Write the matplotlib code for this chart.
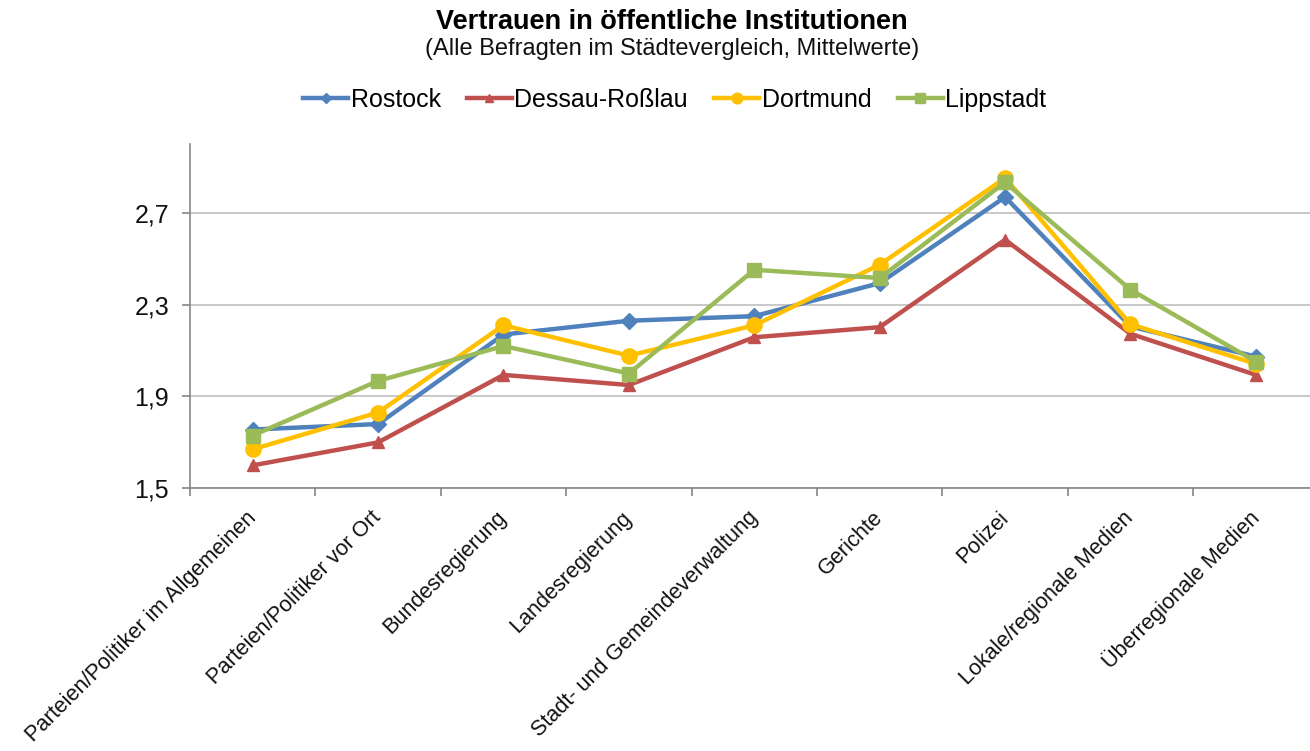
import matplotlib
matplotlib.use("Agg")
import matplotlib.pyplot as plt
from matplotlib.ticker import FixedLocator, FuncFormatter

plt.rcParams['font.family'] = ['Liberation Sans', 'DejaVu Sans']

categories = ["Parteien/Politiker im Allgemeinen", "Parteien/Politiker vor Ort",
              "Bundesregierung", "Landesregierung", "Stadt- und Gemeindeverwaltung",
              "Gerichte", "Polizei", "Lokale/regionale Medien", "Überregionale Medien"]
rostock   = [1.756, 1.78, 2.17, 2.23, 2.25, 2.394, 2.769, 2.205, 2.074]
dessau    = [1.60, 1.70, 1.994, 1.95, 2.158, 2.202, 2.583, 2.173, 1.994]
dortmund  = [1.67, 1.83, 2.21, 2.078, 2.21, 2.474, 2.852, 2.215, 2.042]
lippstadt = [1.73, 1.968, 2.12, 2.00, 2.452, 2.416, 2.833, 2.365, 2.052]
series_names = ["Rostock", "Dessau-Roßlau", "Dortmund", "Lippstadt"]
yticks = [1.5, 1.9, 2.3, 2.7]

fig = plt.figure(figsize=(13.1, 7.51), dpi=100)
ax = fig.add_axes([190/1310, 1-488.3/751, 1128.6/1310, (488.3-144)/751])

x = list(range(len(categories)))
styles = [
    (rostock,   "#4F81BD", "D", 8),
    (dessau,    "#C0504D", "^", 9),
    (dortmund,  "#FFC000", "o", 11),
    (lippstadt, "#9BBB59", "s", 10),
]
for (vals, col, mk, ms), name in zip(styles, series_names):
    ax.plot(x, vals, color=col, lw=3.2, marker=mk, ms=ms, mfc=col, mec=col,
            label=name, solid_joinstyle='round')

ax.set_xlim(-0.5, len(categories) - 0.5)
ax.set_ylim(1.5, 3.0)
ax.yaxis.set_major_locator(FixedLocator(yticks))
ax.yaxis.set_major_formatter(FuncFormatter(lambda v, p: f"{v:.1f}".replace(".", ",")))
ax.grid(axis='y', color='#BFBFBF', lw=1.2)
ax.set_axisbelow(True)

ax.set_xticks(x)
ax.set_xticklabels(categories, rotation=45, ha='right', va='center',
                   rotation_mode='anchor', fontsize=15.6, color='#111111')
ax.set_xticks([i - 0.5 for i in range(len(categories) + 1)], minor=True)
ax.tick_params(axis='x', which='major', length=0, pad=19)
ax.tick_params(axis='x', which='minor', length=6, color='#868686', width=1.2)
ax.tick_params(axis='y', length=6, color='#868686', width=1.2, labelsize=18,
               labelcolor='#111111', pad=9)

for s in ['top', 'right']:
    ax.spines[s].set_visible(False)
for s in ['left', 'bottom']:
    ax.spines[s].set_color('#868686')
    ax.spines[s].set_linewidth(1.2)

fig.text(0.513, 0.971, "Vertrauen in öffentliche Institutionen", ha='center', va='center',
         fontsize=19.5, fontweight='bold', color='#000000')
fig.text(0.513, 0.935, "(Alle Befragten im Städtevergleich, Mittelwerte)", ha='center',
         va='center', fontsize=17, color='#111111')

leg = fig.legend(loc='center', bbox_to_anchor=(0.515, 0.867), ncol=4, frameon=False,
                 fontsize=18, handlelength=1.8, handletextpad=0.1, columnspacing=1.05,
                 markerscale=0.7)

fig.savefig("out.png", dpi=100)
